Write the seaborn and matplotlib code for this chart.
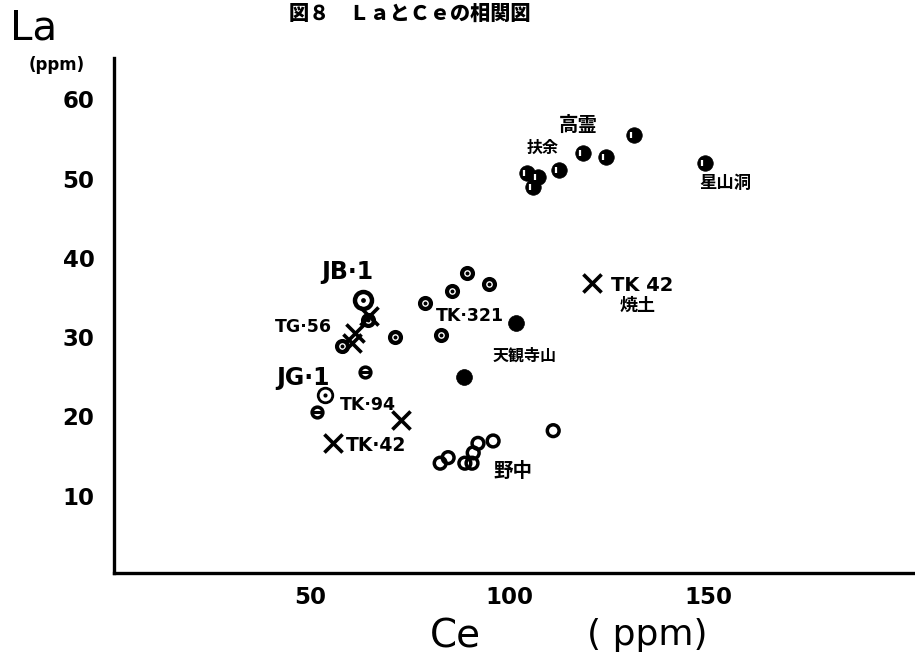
import matplotlib
matplotlib.use("Agg")
import matplotlib.pyplot as plt
import seaborn as sns
import pandas as pd

sns.set_theme(style="white")
plt.rcParams['font.family'] = ['DejaVu Sans', 'Noto Sans CJK JP']
plt.rcParams['text.color'] = 'black'
plt.rcParams['axes.labelcolor'] = 'black'
plt.rcParams['xtick.color'] = 'black'
plt.rcParams['ytick.color'] = 'black'

CJK = ['Noto Sans CJK JP', 'DejaVu Sans']

# --- data: Ce (x) and La (y) in ppm, grouped by marker type ---
# filled circles with a white notch (高霊 / 扶余 / 星山洞)
notched_ce = [131.4, 118.6, 124.4, 112.6, 104.5, 107.3, 106.0, 149.2]
notched_la = [55.5, 53.2, 52.7, 51.1, 50.7, 50.2, 48.9, 52.0]

# solid filled circles (天観寺山)
solid_ce = [101.8, 88.7]
solid_la = [31.8, 25.0]

# thick rings with centre dot (TK·321, TG·56 group)
dotring_ce = [89.4, 95.0, 85.7, 78.9, 82.9, 71.4, 58.0, 64.6]
dotring_la = [38.1, 36.7, 35.8, 34.3, 30.3, 30.0, 28.9, 32.2]

# standard rocks JB·1 and JG·1
jb1_ce, jb1_la = [63.3], [34.7]
jg1_ce, jg1_la = [53.8], [22.7]

# rings with a horizontal bar
theta_ce = [63.8, 51.8]
theta_la = [25.6, 20.6]

# open rings (野中)
open_ce = [82.7, 84.7, 88.9, 90.7, 91.0, 92.2, 96.0, 111.1]
open_la = [14.1, 14.8, 14.1, 14.1, 15.4, 16.6, 16.9, 18.2]

# crosses (TK samples)
cross_ce = [120.9, 55.8, 72.9, 64.8, 61.3, 60.6]
cross_la = [36.8, 16.6, 19.5, 32.6, 30.5, 29.3]

x_ticks = [50, 100, 150]
y_ticks = [10, 20, 30, 40, 50, 60]


def frame(ce, la):
    return pd.DataFrame({"Ce": ce, "La": la})


fig = plt.figure(figsize=(9.15, 6.68), dpi=100)
ax = fig.add_axes([0.1246, 0.1422, 0.8754, 0.771])

K = "black"

# filled circles with white notch
d = frame(notched_ce, notched_la)
sns.scatterplot(data=d, x="Ce", y="La", ax=ax, marker="o", s=125,
                color=K, edgecolor=K, linewidth=0.5, zorder=3)
sns.scatterplot(data=d, x=d["Ce"] - 0.7, y="La", ax=ax, marker="|", s=24,
                color="white", linewidth=1.6, zorder=4)

# solid circles
sns.scatterplot(data=frame(solid_ce, solid_la), x="Ce", y="La", ax=ax,
                marker="o", s=130, color=K, edgecolor=K, linewidth=0.5, zorder=3)

# thick rings with centre dot
d = frame(dotring_ce, dotring_la)
sns.scatterplot(data=d, x="Ce", y="La", ax=ax, marker="o", s=62,
                facecolor="white", edgecolor=K, linewidth=3.0, zorder=3)
sns.scatterplot(data=d, x="Ce", y="La", ax=ax, marker="o", s=8,
                color=K, linewidth=0, zorder=4)

# JB·1 (large dotted ring)
d = frame(jb1_ce, jb1_la)
sns.scatterplot(data=d, x="Ce", y="La", ax=ax, marker="o", s=150,
                facecolor="white", edgecolor=K, linewidth=3.2, zorder=3)
sns.scatterplot(data=d, x="Ce", y="La", ax=ax, marker="o", s=12,
                color=K, linewidth=0, zorder=4)

# JG·1 (thin dotted ring)
d = frame(jg1_ce, jg1_la)
sns.scatterplot(data=d, x="Ce", y="La", ax=ax, marker="o", s=110,
                facecolor="white", edgecolor=K, linewidth=2.0, zorder=3)
sns.scatterplot(data=d, x="Ce", y="La", ax=ax, marker="o", s=9,
                color=K, linewidth=0, zorder=4)

# rings with bar
d = frame(theta_ce, theta_la)
sns.scatterplot(data=d, x="Ce", y="La", ax=ax, marker="o", s=60,
                facecolor="white", edgecolor=K, linewidth=2.5, zorder=3)
sns.scatterplot(data=d, x="Ce", y="La", ax=ax, marker="_", s=45,
                color=K, linewidth=2.2, zorder=4)

# open rings
sns.scatterplot(data=frame(open_ce, open_la), x="Ce", y="La", ax=ax,
                marker="o", s=72, facecolor="none", edgecolor=K,
                linewidth=2.5, zorder=3)

# crosses
sns.scatterplot(data=frame(cross_ce, cross_la), x="Ce", y="La", ax=ax,
                marker="x", s=170, color=K, linewidth=2.6, zorder=5)

# --- sample labels ---
jp = dict(family=CJK, fontweight="bold", fontsize=12.5, ha="center",
          va="center", color=K)
ax.text(117.3, 56.7, "高霊", **{**jp, "fontsize": 14})
ax.text(108.3, 53.9, "扶余", **{**jp, "fontsize": 11.5})
ax.text(154.3, 49.4, "星山洞", **jp)
ax.text(104.0, 27.7, "天観寺山", **{**jp, "fontsize": 11.5})
ax.text(101.0, 13.0, "野中", **{**jp, "fontsize": 14})
ax.text(132.2, 34.0, "焼土", **{**jp, "fontsize": 13})

lab = dict(fontweight="bold", fontsize=12.5, ha="center", va="center", color=K)
ax.text(59.3, 38.2, "JB·1", **{**lab, "fontsize": 17})
ax.text(48.3, 31.3, "TG·56", **lab)
ax.text(90.2, 32.7, "TK·321", **lab)
ax.text(48.2, 24.8, "JG·1", **{**lab, "fontsize": 17})
ax.text(64.6, 21.4, "TK·94", **lab)
ax.text(66.5, 16.3, "TK·42", **{**lab, "fontsize": 13.5})
ax.text(133.5, 36.5, "TK 42", **{**lab, "fontsize": 14})

# --- axes ---
ax.set_xlim(0.75, 202)
ax.set_ylim(0.25, 65.2)
ax.set_xticks(x_ticks)
ax.set_yticks(y_ticks)
ax.set_xticklabels([str(v) for v in x_ticks], fontsize=16.5, fontweight="bold",
                   color=K)
ax.set_yticklabels([str(v) for v in y_ticks], fontsize=16.5, fontweight="bold",
                   color=K)
ax.set_xlabel("")
ax.set_ylabel("")
for side in ("top", "right"):
    ax.spines[side].set_visible(False)
for side in ("left", "bottom"):
    ax.spines[side].set_linewidth(2.4)
    ax.spines[side].set_color(K)
ax.tick_params(axis="both", direction="in", length=5, width=2, color=K,
               labelcolor=K)
ax.tick_params(axis="x", pad=9)
ax.tick_params(axis="y", pad=14)
ax.grid(False)
ax.set_facecolor("white")

# --- titles and axis names ---
fig.text(0.448, 0.979, "図８　ＬａとＣｅの相関図", family=CJK,
         fontweight="heavy", fontsize=14.5, ha="center", va="center", color=K)
fig.text(0.011, 0.958, "La", fontsize=29, ha="left", va="center", color=K)
fig.text(0.062, 0.903, "(ppm)", fontweight="bold", fontsize=12,
         ha="center", va="center", color=K)
fig.text(0.498, 0.047, "Ce", fontsize=28, ha="center", va="center", color=K)
fig.text(0.707, 0.049, "( ppm)", fontsize=26, ha="center", va="center", color=K)

fig.savefig("out.png", dpi=100, facecolor="white")
